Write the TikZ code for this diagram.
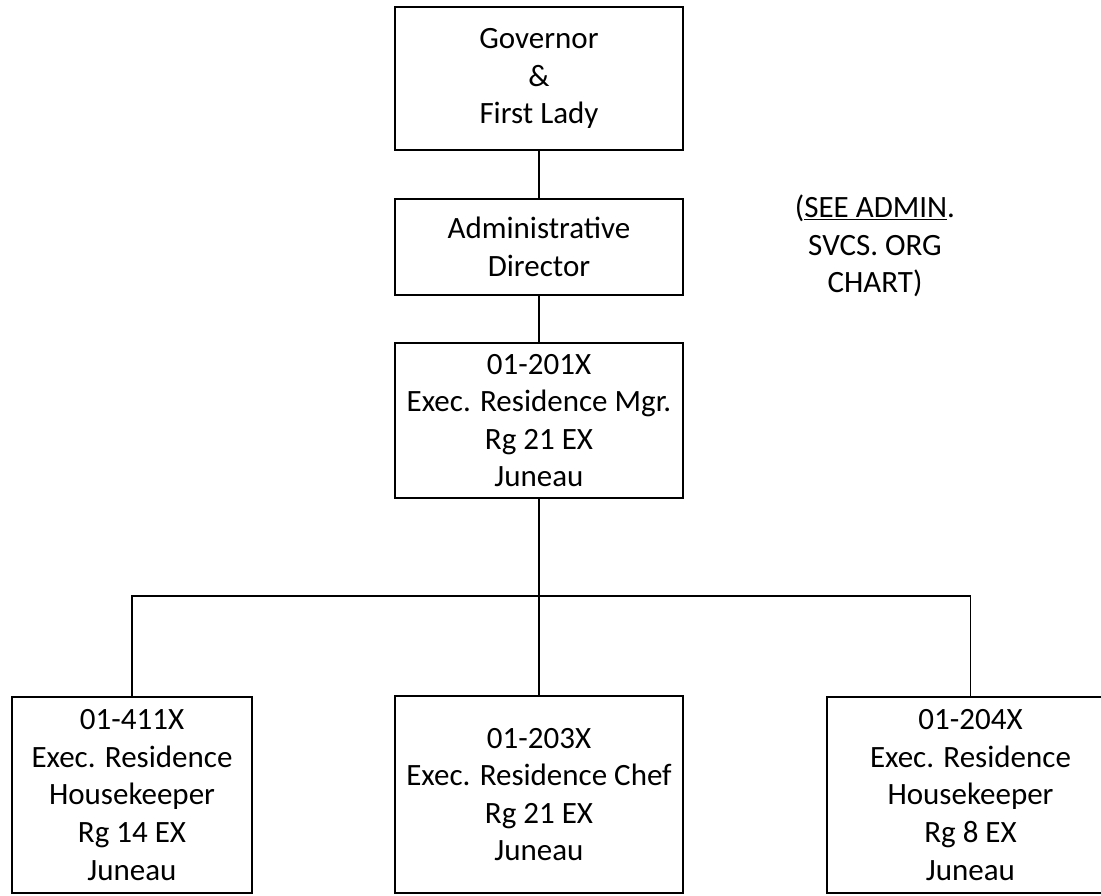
\documentclass[tikz,border=0pt]{standalone}
\usepackage{fontspec}
\setmainfont{Carlito}
\begin{document}
\begin{tikzpicture}[x=1pt,y=-1pt,
  orgbox/.style={draw=black,line width=1.6pt,rectangle,align=center,inner sep=0pt,
    font=\fontsize{31}{37.6}\selectfont},
  link/.style={draw=black,line width=1.6pt},
  note/.style={align=center,inner sep=0pt,font=\fontsize{31}{37.6}\selectfont}]
\clip (0,0) rectangle (1101,896);
\fill[white] (0,0) rectangle (1101,896);
\node[orgbox,minimum width=288pt,minimum height=143pt] (gov) at (539,78.5) {Governor\\\&\\First Lady};
\node[orgbox,minimum width=288pt,minimum height=96pt] (adm) at (539,247) {Administrative\\Director};
\node[orgbox,minimum width=288pt,minimum height=155pt] (mgr) at (539,420.5) {01-201X\\Exec. Residence Mgr.\\Rg 21 EX\\Juneau};
\node[orgbox,minimum width=240pt,minimum height=196pt] (hk1) at (132,795) {01-411X\\Exec. Residence\\Housekeeper\\Rg 14 EX\\Juneau};
\node[orgbox,minimum width=288pt,minimum height=197pt] (chef) at (539,794.5) {01-203X\\Exec. Residence Chef\\Rg 21 EX\\Juneau};
\node[orgbox,minimum width=287pt,minimum height=196pt] (hk2) at (970.5,795) {01-204X\\Exec. Residence\\Housekeeper\\Rg 8 EX\\Juneau};
\node[note] (see) at (875,246) {(\underline{SEE ADMIN}.\\SVCS. ORG\\CHART)};
\coordinate (bar) at (539,596);
\draw[link] (gov.south) -- (adm.north);
\draw[link] (adm.south) -- (mgr.north);
\draw[link] (mgr.south) -- (chef.north);
\draw[link] (hk1.north) |- (bar) -| (hk2.north);
\end{tikzpicture}
\end{document}
